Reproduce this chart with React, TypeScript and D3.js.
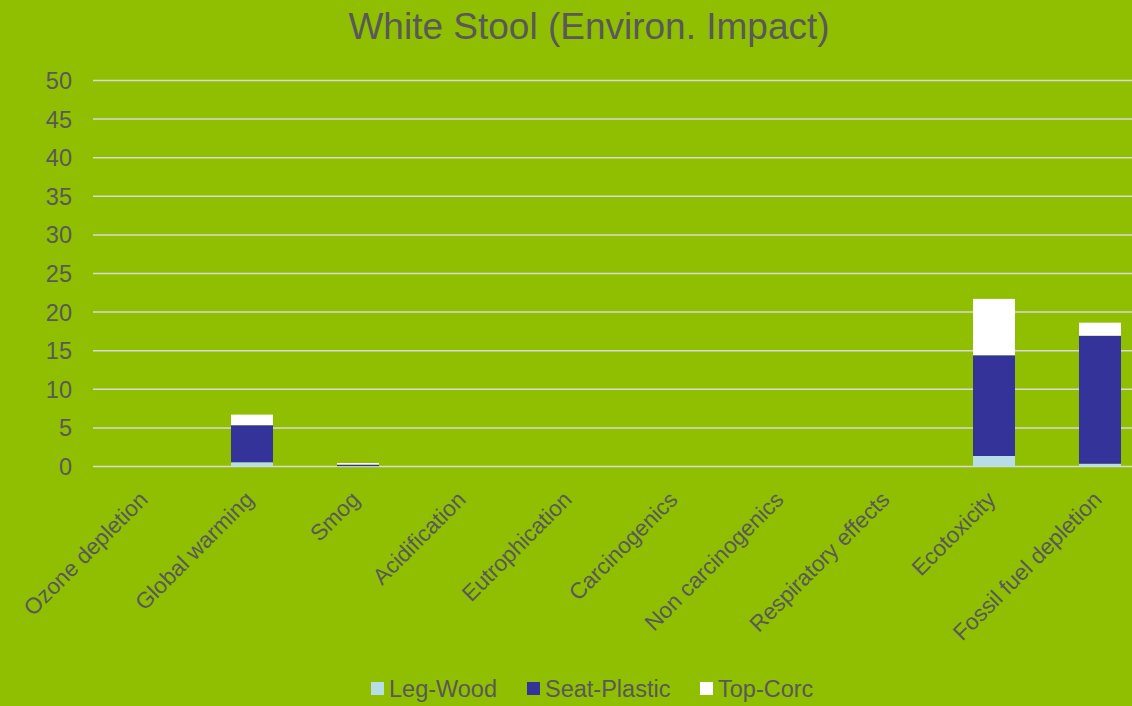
import { useEffect, useRef } from "react";
import * as d3 from "d3";

const CATEGORIES = [
  "Ozone depletion", "Global warming", "Smog", "Acidification", "Eutrophication",
  "Carcinogenics", "Non carcinogenics", "Respiratory effects", "Ecotoxicity", "Fossil fuel depletion",
];
const LEG_WOOD     = [0, 0.55, 0.05, 0, 0, 0, 0, 0, 1.36, 0.36];
const SEAT_PLASTIC = [0, 4.8, 0.2, 0, 0, 0, 0, 0, 13.05, 16.58];
const TOP_CORC     = [0, 1.37, 0.2, 0, 0, 0, 0, 0, 7.3, 1.69];
const SERIES = [
  { name: "Leg-Wood", values: LEG_WOOD, color: "#B7DEE8" },
  { name: "Seat-Plastic", values: SEAT_PLASTIC, color: "#333399" },
  { name: "Top-Corc", values: TOP_CORC, color: "#FFFFFF" },
];
const Y_TICKS = [0, 5, 10, 15, 20, 25, 30, 35, 40, 45, 50];

export default function App() {
  const svgRef = useRef<SVGSVGElement>(null);

  useEffect(() => {
    if (!svgRef.current) return;
    const W = 1132, H = 706;
    const svg = d3.select(svgRef.current);
    svg.selectAll("*").remove();
    const font = "'Liberation Sans', Arial, sans-serif";
    const txt = "#595959";

    svg.append("rect").attr("width", W).attr("height", H).attr("fill", "#8FBF00");

    svg.append("text").attr("x", 589).attr("y", 39).attr("text-anchor", "middle")
      .attr("font-family", font).attr("font-size", 37).attr("fill", txt).text("White Stool (Environ. Impact)");

    const x = d3.scaleBand().domain(CATEGORIES).range([93, 1153]);
    const y = d3.scaleLinear().domain([0, 50]).range([466.5, 80.5]);

    Y_TICKS.forEach(v => {
      svg.append("line").attr("x1", 93).attr("x2", W).attr("y1", y(v)).attr("y2", y(v))
        .attr("stroke", "#D9D9D9").attr("stroke-width", 1.5);
      svg.append("text").attr("x", 72).attr("y", y(v)).attr("dy", "0.36em").attr("text-anchor", "end")
        .attr("font-family", font).attr("font-size", 23.5).attr("fill", txt).text(v);
    });

    const bw = 42;
    CATEGORIES.forEach((c, i) => {
      let cum = 0;
      const cx = (x(c) ?? 0) + x.bandwidth() / 2;
      SERIES.forEach(s => {
        const v = s.values[i];
        if (v > 0) {
          svg.append("rect").attr("x", cx - bw / 2).attr("width", bw)
            .attr("y", y(cum + v)).attr("height", y(cum) - y(cum + v)).attr("fill", s.color);
        }
        cum += v;
      });
      svg.append("text").attr("transform", `translate(${cx + 3},${501}) rotate(-45)`)
        .attr("text-anchor", "end").attr("font-family", font).attr("font-size", 22.5).attr("fill", txt).text(c);
    });

    const legendX = [371, 527, 700];
    SERIES.forEach((s, i) => {
      svg.append("rect").attr("x", legendX[i]).attr("y", 682).attr("width", 13).attr("height", 13).attr("fill", s.color);
      svg.append("text").attr("x", legendX[i] + 18).attr("y", 697).attr("font-family", font)
        .attr("font-size", 23.5).attr("fill", txt).text(s.name);
    });
  }, []);

  return <svg ref={svgRef} width={1132} height={706} style={{ position: "absolute", left: 0, top: 0 }} />;
}
